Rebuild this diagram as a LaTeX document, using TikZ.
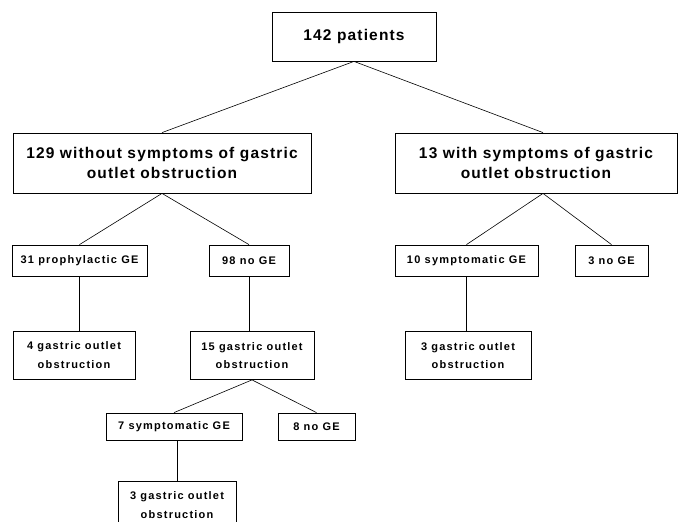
\documentclass[tikz,border=0pt]{standalone}
\usepackage{fontspec}
\usepackage{tikz}
\usetikzlibrary{shapes}
\usetikzlibrary{positioning}
\newfontfamily\bigboxfont[LetterSpace=7.5]{Liberation Sans}
\newfontfamily\smallboxfont[LetterSpace=11]{Liberation Sans}
\tikzstyle{block} = [draw, rectangle, line width=0.8pt, inner sep=0pt, align=center]
\tikzstyle{bigblock} = [block, minimum height=60pt,
    font=\bigboxfont\bfseries\fontsize{15.5}{19.5}\selectfont]
\tikzstyle{smallblock} = [block, minimum height=31pt,
    font=\smallboxfont\bfseries\fontsize{11}{18.5}\selectfont]
\tikzstyle{tallblock} = [smallblock, minimum height=48pt]
\tikzstyle{line} = [draw, line width=0.6pt]

\begin{document}
\begin{tikzpicture}[auto, node distance=97.5pt]
    \useasboundingbox (0,0) rectangle (678pt,-522pt);
    \clip (0,0) rectangle (678pt,-522pt);
    \node [bigblock, minimum width=164pt, minimum height=49pt] at (354pt,-36.5pt) (patients) {142 patients};
    \node [bigblock, minimum width=298pt, node distance=126.5pt, below of=patients, xshift=-192pt] (without) {129 without symptoms of gastric\\outlet obstruction};
    \node [bigblock, minimum width=282pt, node distance=126.5pt, below of=patients, xshift=182pt] (with) {13 with symptoms of gastric\\outlet obstruction};

    \node [smallblock, minimum width=135pt, below of=without, xshift=-82.5pt] (prophGE) {31 prophylactic GE};
    \node [smallblock, minimum width=80pt, below of=without, xshift=87pt] (noGEa) {98 no GE};
    \node [smallblock, minimum width=143pt, below of=with, xshift=-69.5pt] (symptGEa) {10 symptomatic GE};
    \node [smallblock, minimum width=73pt, below of=with, xshift=75.5pt] (noGEb) {3 no GE};

    \node [tallblock, minimum width=122pt, node distance=94.5pt, below of=prophGE, xshift=-5.5pt] (obstrA) {4 gastric outlet\\obstruction};
    \node [tallblock, minimum width=124pt, node distance=95pt, below of=noGEa, xshift=3pt] (obstrB) {15 gastric outlet\\obstruction};
    \node [tallblock, minimum width=126pt, node distance=95pt, below of=symptGEa, xshift=1.5pt] (obstrC) {3 gastric outlet\\obstruction};

    \node [smallblock, minimum width=136pt, minimum height=27pt, node distance=71pt, below of=obstrB, xshift=-78pt] (symptGEb) {7 symptomatic GE};
    \node [smallblock, minimum width=77pt, minimum height=27pt, node distance=71pt, below of=obstrB, xshift=64.5pt] (noGEc) {8 no GE};
    \node [tallblock, minimum width=118pt, node distance=78.5pt, below of=symptGEb, xshift=3pt] (obstrD) {3 gastric outlet\\obstruction};

    \draw [line] (patients.south) -- (without.north);
    \draw [line] (patients.south) -- ([xshift=7pt]with.north);
    \draw [line] (without.south) -- (prophGE.north);
    \draw [line] (without.south) -- (noGEa.north);
    \draw [line] ([xshift=7pt]with.south) -- (symptGEa.north);
    \draw [line] ([xshift=7pt]with.south) -- (noGEb.north);
    \draw [line] (prophGE.south) -- (prophGE.south |- obstrA.north);
    \draw [line] (noGEa.south) -- (noGEa.south |- obstrB.north);
    \draw [line] (symptGEa.south) -- (symptGEa.south |- obstrC.north);
    \draw [line] (obstrB.south) -- (symptGEb.north);
    \draw [line] (obstrB.south) -- (noGEc.north);
    \draw [line] (obstrD.north |- symptGEb.south) -- (obstrD.north);
\end{tikzpicture}
\end{document}
